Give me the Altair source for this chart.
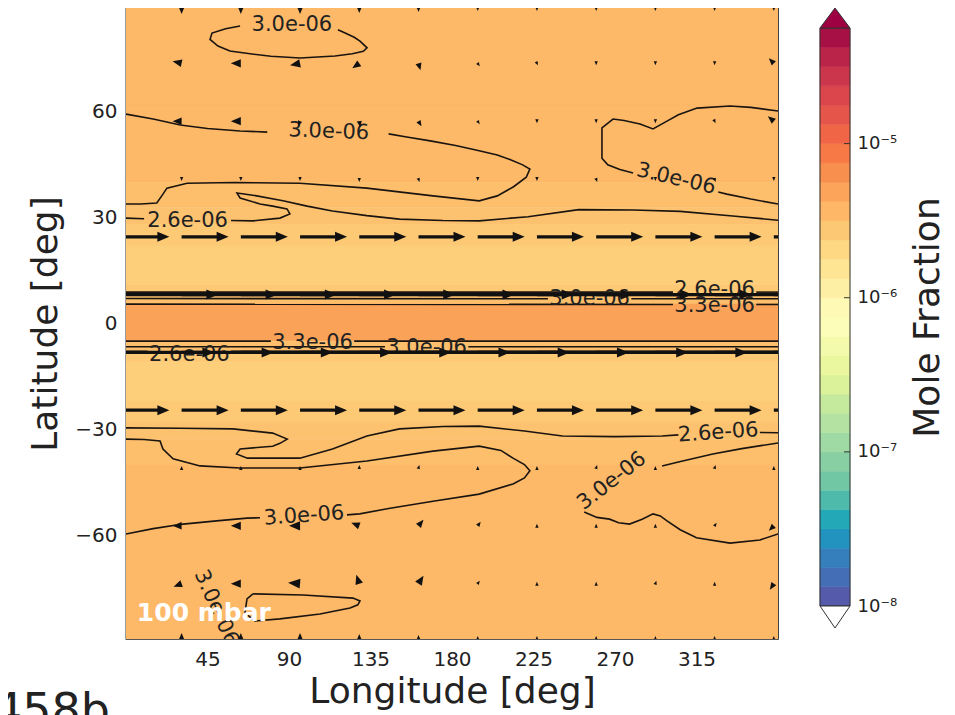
import altair as alt
import pandas as pd

# ------------------------------------------------------------------
# Data
# ------------------------------------------------------------------
# zonal colour field: latitude bands (north -> south) and mole fraction
band_top = [89.5, 62, 40, 33, 28, 22, 11, 8.5, 5.5, -5, -8, -11, -22, -28, -33, -40, -62]
band_bottom = [62, 40, 33, 28, 22, 11, 8.5, 5.5, -5, -8, -11, -22, -28, -33, -40, -62, -89.5]
band_value = [3.5e-6, 3.5e-6, 3.2e-6, 3.0e-6, 2.7e-6, 2.4e-6, 2.7e-6, 3.2e-6, 5.0e-6,
              3.2e-6, 2.7e-6, 2.4e-6, 2.7e-6, 3.0e-6, 3.2e-6, 3.5e-6, 3.5e-6]

# wind vectors (quiver), arbitrary display units
arrow_lon = [-2.0, 30.7, 63.4, 96.1, 128.8, 161.5, 194.2, 226.9, 259.6, 292.3, 325.0, 357.7]
arrow_lat = [89.5, 73.8, 57.4, 41.0, 24.6, 8.2, -8.2, -24.6, -41.0, -57.4, -73.8, -89.5]
arrow_u = [
    [0, 0, 0, 0, 0, 0, 0, 0, 0, 0, 0, 0],
    [-9, -9, -10, -10, -7, 2, 2, 1, 0, 0, 0, -5],
    [-9, -9, -10, -2, 1, 3, 2, 0, 0, 0, 1, -6],
    [0, 0, 0, 0, 0, 1, 0, 0, 1, 0, 1, 0],
    [47, 47, 47, 47, 47, 47, 47, 47, 47, 47, 47, 47],
    [96, 96, 96, 96, 96, 96, 96, 96, 96, 96, 96, 96],
    [92, 92, 92, 92, 92, 92, 92, 92, 92, 92, 92, 92],
    [47, 47, 47, 47, 47, 47, 47, 47, 47, 47, 47, 47],
    [0, 0, 0, 0, 0, 1, 0, 0, 1, 0, 1, 0],
    [-9, -9, -10, -11, -8, 5, 3, 0, 0, 0, 2, -5],
    [-9, -8, -10, -12, -3, 5, 2, 0, 0, 1, 0, -4],
    [0, 0, 0, 0, 0, 0, 0, 0, 0, 0, 0, 0],
]
arrow_v = [
    [-6, -6, -6, -6, -5, -4, -3, -3, -3, -3, -3, -3],
    [1, 2, 0, -2, -5, -7, -3, -2, -2, -2, -2, 5],
    [0, 0, 0, -5, -6, -5, -3, -2, -2, -2, -2, 5],
    [-2, -2, -2, -2, -3, -3, -2, -2, -3, -2, -3, -2],
    [0, 0, 0, 0, 0, 0, 0, 0, 0, 0, 0, 0],
    [0, 0, 0, 0, 0, 0, 0, 0, 0, 0, 0, 0],
    [0, 0, 0, 0, 0, 0, 0, 0, 0, 0, 0, 0],
    [0, 0, 0, 0, 0, 0, 0, 0, 0, 0, 0, 0],
    [2, 2, 2, 2, 3, 3, 2, 2, 3, 2, 3, 2],
    [0, 0, 0, 0, 3, 6, 4, 2, 2, 2, 3, -5],
    [-2, -3, 0, 1, 9, 8, 3, 2, 2, 3, 2, -6],
    [6, 6, 6, 6, 5, 4, 3, 3, 3, 3, 3, 3],
]

# contour line segments (lon, lat), split where the labels sit
contour_segments = {
    "n_top_loop": [(117, 83.3), (121, 82.4), (126, 81.2), (129.2, 80.1), (133.1, 78.2), (131, 77.2),
                   (125, 76.5), (115.4, 75.9), (96.1, 75.3), (80, 75.8), (68.5, 76.5), (57.4, 77.3),
                   (50.8, 78.7), (46.4, 80.6), (47.5, 82.4), (55, 83.6), (63, 84.4)],
    "n_b1": [(0, 59.4), (15, 58), (30, 56.3), (45, 55.3), (63, 54.6), (78, 54.3)],
    "n_b2": [(145, 53.8), (155, 52.9), (168, 51.8), (182, 50.5), (195, 49), (205, 47.8), (212, 46.5),
             (219, 45), (223, 43.8), (221, 41.5), (214, 38.8), (205, 36.2), (195, 34.8), (169.5, 36.2),
             (133, 38.4), (96, 39.8), (60, 40), (33.7, 39.8), (22.6, 38.4), (20.4, 36.7), (17, 34.2),
             (8, 33.9), (0, 33.9)],
    "n_d1": [(0, 29.9), (10, 29.7)],
    "n_d2": [(58, 29.2), (70, 29.1), (85, 29.9), (90.5, 31.1), (88.9, 32.5), (81, 33.3),
             (74, 33.9), (63, 35.6), (61.3, 37), (70, 36.4), (86.7, 34.8), (100, 33.3), (114, 31.9),
             (133, 30.6), (151, 29.6), (175, 29.2), (195, 29.1), (222, 30.3), (250, 32.3), (280, 32.2),
             (306, 31.8), (335, 30.5), (360, 29.3)],
    "n_e1": [(360, 60.3), (345, 61.3), (333.5, 61.7), (315.3, 61.1), (305, 59.2), (298.7, 57.4),
             (291, 55.2), (283.8, 56.6), (275, 57.6), (268.9, 58), (262.8, 55.5), (262.8, 50),
             (262.8, 46.9), (266, 45), (272.7, 43.7), (280, 42.7)],
    "n_e2": [(327, 37.3), (331.8, 36.7), (345, 35.3), (360, 33.9)],
    "eq_n26a": [(0, 8.9), (302, 8.9)], "eq_n26b": [(348, 8.9), (360, 8.9)],
    "eq_n30a": [(0, 7.1), (233, 7.0)], "eq_n30b": [(279, 7.0), (360, 7.0)],
    "eq_n33a": [(0, 5.5), (302, 5.4)], "eq_n33b": [(348, 5.4), (360, 5.4)],
    "eq_s33a": [(0, -5.0), (80, -5.0)], "eq_s33b": [(126, -5.0), (360, -5.0)],
    "eq_s30a": [(0, -6.6), (143, -6.6)], "eq_s30b": [(189, -6.6), (360, -6.6)],
    "eq_s26a": [(0, -7.9), (12, -7.9)], "eq_s26b": [(58, -7.9), (360, -7.9)],
    "s_d1": [(0, -29.6), (30, -29.7), (59, -29.9), (81, -31.1), (89, -32.8), (85, -34), (81, -34.8),
             (63, -35.6), (61, -37), (67, -38.2), (96, -38.2), (114, -35.6), (133, -31.9), (151, -29.9),
             (175, -29.2), (195, -29.1), (220, -30.5), (241, -31.9), (270, -32.1), (296, -31.9),
             (305, -31.6)],
    "s_d2": [(350, -30.9), (360, -31.0)],
    "s_b1": [(0, -32.8), (10, -32.9), (18.8, -33.3), (20.4, -35.6), (26, -38.4), (40.9, -40.4),
             (62.9, -41), (96, -41), (133, -39), (169.5, -36.2), (195, -34.8), (207, -36), (213.7, -38.2),
             (220, -40), (223, -41.8), (220, -43.8), (213.7, -45.5), (195, -48.4), (169.5, -50.4),
             (145, -52.5), (129, -54), (122, -54.3)],
    "s_b2": [(74, -55.1), (66.8, -55.2), (50, -56), (31.5, -56.9), (15, -58.2), (0, -59.7)],
    "s_e1": [(360, -33.9), (340, -35.5), (324, -37), (305, -39.3), (296, -40.4)],
    "s_e2": [(253, -53.5), (260, -55), (267, -55.5), (272, -56.5), (278, -56.9), (285, -55.5),
             (291, -54), (295, -54.6), (298.7, -56), (306, -58.5), (315, -60.8), (333.5, -62.3),
             (350, -61.4), (360, -59.7)],
    "s_loop": [(70.1, -76.7), (97.7, -77), (125.3, -77.9), (129.2, -78.7), (128, -79.8), (123.7, -80.7),
               (107.1, -82.4), (85, -83.8), (71.2, -84.4), (65.7, -82.1), (66.8, -78.1), (70.1, -76.7)],
}

label_text = ["3.0e-06", "3.0e-06", "2.6e-06", "3.0e-06", "2.6e-06", "3.0e-06", "3.3e-06",
              "2.6e-06", "3.3e-06", "3.0e-06", "2.6e-06", "3.0e-06", "3.0e-06", "3.0e-06"]
label_lon = [91.6, 112, 34, 303.7, 325, 256, 325, 35, 103, 166, 327, 268.3, 98.3, 49.7]
label_lat = [84.7, 54.4, 29.0, 41.0, 9.4, 6.9, 5.0, -8.9, -5.5, -7.0, -31.0, -44.7, -54.6, -80.7]
label_angle = [0, 2, 0, 13, 0, 0, 0, 0, 0, 0, 356, 322, 356, 66]

x_ticks = [45, 90, 135, 180, 225, 270, 315]
y_ticks = [-60, -30, 0, 30, 60]
cbar_ticks = [1e-8, 1e-7, 1e-6, 1e-5]
cbar_min_exp = -8.0
cbar_max_exp = -4.25
cbar_levels = 30

# ------------------------------------------------------------------
# Style / layout
# ------------------------------------------------------------------
W, H = 652, 631
LON_DOM = [0, 360]
LAT_DOM = [-89.5, 89.5]
PX_LON = W / (LON_DOM[1] - LON_DOM[0])
PX_LAT = H / (LAT_DOM[1] - LAT_DOM[0])
FONT = "DejaVu Sans"
TXT = "#222222"
spectral_r = ["#5e4fa2", "#3288bd", "#66c2a5", "#abdda4", "#e6f598", "#ffffbf",
              "#fee08b", "#fdae61", "#f46d43", "#d53e4f", "#9e0142"]
color_stops = [cbar_min_exp + (cbar_max_exp - cbar_min_exp) * k / 10 for k in range(11)]
cscale = alt.Scale(type="linear", domain=color_stops, range=spectral_r, clamp=True)

xs = alt.Scale(domain=LON_DOM, nice=False, zero=False)
ys = alt.Scale(domain=LAT_DOM, nice=False, zero=False)
xaxis = alt.Axis(values=x_ticks, title="Longitude [deg]", ticks=False, tickSize=0, domain=False, grid=False,
                 labelFontSize=20, labelColor=TXT, labelPadding=10, titleFontSize=36,
                 titleFontWeight="normal", titleColor=TXT, titlePadding=5)
yaxis = alt.Axis(values=y_ticks, title="Latitude [deg]", ticks=False, tickSize=0, domain=False, grid=False,
                 labelFontSize=20, labelColor=TXT, labelPadding=9, titleFontSize=36,
                 titleFontWeight="normal", titleColor=TXT, titlePadding=10)

# ------------------------------------------------------------------
# Tables
# ------------------------------------------------------------------
df_field = pd.DataFrame({"lon0": 0, "lon1": 360, "lat0": band_bottom, "lat1": band_top, "v": band_value})

rows = []
for i, la in enumerate(arrow_lat):
    for j, lo in enumerate(arrow_lon):
        rows.append({"lon": lo, "lat": la, "u": arrow_u[i][j], "v": arrow_v[i][j]})
df_arrows = pd.DataFrame(rows)

crow = []
for name, pts in contour_segments.items():
    for k, (lo, la) in enumerate(pts):
        crow.append({"cid": name, "seq": k, "lon": lo, "lat": la})
df_contours = pd.DataFrame(crow)

df_labels = pd.DataFrame({"text": label_text, "lon": label_lon, "lat": label_lat, "ang": label_angle})
step = (cbar_max_exp - cbar_min_exp) / cbar_levels
df_cbar = pd.DataFrame({"lo": [cbar_min_exp + step * k for k in range(cbar_levels)],
                        "hi": [cbar_min_exp + step * (k + 1) for k in range(cbar_levels)]})

# ------------------------------------------------------------------
# Map layers
# ------------------------------------------------------------------
field = alt.Chart(df_field).transform_calculate(
    logv="log(datum.v)/LN10"
).mark_rect(clip=True, strokeWidth=0.6).encode(
    x=alt.X("lon0:Q", scale=xs, axis=xaxis), x2="lon1:Q",
    y=alt.Y("lat0:Q", scale=ys, axis=yaxis), y2="lat1:Q",
    color=alt.Color("logv:Q", scale=cscale, legend=None),
    stroke=alt.Stroke("logv:Q", scale=cscale, legend=None),
)

contours = alt.Chart(df_contours).mark_line(clip=True, color="#1a1410", strokeWidth=1.6).encode(
    x=alt.X("lon:Q", scale=xs, axis=xaxis),
    y=alt.Y("lat:Q", scale=ys, axis=yaxis),
    detail="cid:N", order="seq:Q",
)

clabels = alt.Chart(df_labels).mark_text(clip=True, fontSize=21, color=TXT, baseline="middle",
                                         align="center").encode(
    x=alt.X("lon:Q", scale=xs, axis=xaxis),
    y=alt.Y("lat:Q", scale=ys, axis=yaxis),
    text="text:N", angle=alt.Angle("ang:Q", scale=None),
)

arrow_base = alt.Chart(df_arrows).transform_calculate(
    L="sqrt(datum.u*datum.u + datum.v*datum.v)"
).transform_calculate(
    h="clamp(datum.L, 4, 12)", ux="datum.u/datum.L", uy="datum.v/datum.L"
).transform_calculate(
    hx=f"datum.lon + datum.ux*(datum.L - datum.h/2)/{PX_LON}",
    hy=f"datum.lat + datum.uy*(datum.L - datum.h/2)/{PX_LAT}",
    sx=f"datum.lon + datum.ux*(datum.L - 0.7*datum.h)/{PX_LON}",
    sy=f"datum.lat + datum.uy*(datum.L - 0.7*datum.h)/{PX_LAT}",
    ang="(atan2(-datum.uy, datum.ux)*180/PI + 360) % 360",
    size="datum.h*datum.h",
)

shafts = arrow_base.transform_filter("datum.L > 12").mark_rule(
    clip=True, color="#111111", strokeWidth=3.2, strokeCap="butt").encode(
    x=alt.X("lon:Q", scale=xs, axis=xaxis), x2="sx:Q",
    y=alt.Y("lat:Q", scale=ys, axis=yaxis), y2="sy:Q",
)

heads = arrow_base.mark_point(
    clip=True, shape="M-1,-0.83L1,0L-1,0.83Z", filled=True, color="#111111", opacity=1, strokeWidth=0
).encode(
    x=alt.X("hx:Q", scale=xs, axis=xaxis),
    y=alt.Y("hy:Q", scale=ys, axis=yaxis),
    angle=alt.Angle("ang:Q", scale=None),
    size=alt.Size("size:Q", scale=None),
)

pressure = alt.Chart(pd.DataFrame({"lon": [6], "lat": [-84.4], "t": ["100 mbar"]})).mark_text(
    align="left", baseline="alphabetic", fontSize=25, fontWeight="bold", color="white"
).encode(
    x=alt.X("lon:Q", scale=xs, axis=xaxis),
    y=alt.Y("lat:Q", scale=ys, axis=yaxis),
    text="t:N",
)

planet = alt.Chart(pd.DataFrame({"t": ["458b"]})).mark_text(
    align="left", baseline="alphabetic", fontSize=46, color=TXT
).encode(x=alt.value(-133), y=alt.value(718), text="t:N")

map_layer = alt.layer(field, contours, clabels, shafts, heads, pressure, planet)

# ------------------------------------------------------------------
# Colour bar
# ------------------------------------------------------------------
CB_X0, CB_X1 = 694, 724
cb_y = alt.Scale(type="log", domain=[10 ** cbar_min_exp, 10 ** cbar_max_exp], range=[598, 20], nice=False)
cb_axis = alt.Axis(orient="right", offset=CB_X1 - W, values=cbar_ticks, ticks=False, tickSize=0,
                   domain=False, grid=False,
                   labelExpr="'10\u207b' + ['\u2070','\u00b9','\u00b2','\u00b3','\u2074','\u2075','\u2076','\u2077','\u2078','\u2079'][abs(round(log(datum.value)/LN10))]",
                   labelFontSize=18, labelColor=TXT, labelPadding=7,
                   title="Mole Fraction", titleAngle=270, titleFontSize=36, titleFontWeight="normal",
                   titleColor=TXT, titlePadding=50)

cb_bands = alt.Chart(df_cbar).transform_calculate(
    vlo="pow(10, datum.lo)", vhi="pow(10, datum.hi)", logv="(datum.lo + datum.hi)/2"
).mark_rect(strokeWidth=0.6).encode(
    x=alt.value(CB_X0), x2=alt.value(CB_X1),
    y=alt.Y("vlo:Q", scale=cb_y, axis=cb_axis), y2="vhi:Q",
    color=alt.Color("logv:Q", scale=cscale, legend=None),
    stroke=alt.Stroke("logv:Q", scale=cscale, legend=None),
)

cb_outline = alt.Chart(pd.DataFrame({"lo": [cbar_min_exp], "hi": [cbar_max_exp]})).transform_calculate(
    vlo="pow(10, datum.lo)", vhi="pow(10, datum.hi)"
).mark_rect(fillOpacity=0, stroke="#333333", strokeWidth=1).encode(
    x=alt.value(CB_X0), x2=alt.value(CB_X1),
    y=alt.Y("vlo:Q", scale=cb_y, axis=cb_axis), y2="vhi:Q",
)

cb_ticks = alt.Chart(pd.DataFrame({"t": cbar_ticks[1:]})).mark_rule(
    color="#333333", strokeWidth=1).encode(
    x=alt.value(CB_X1 - 6), x2=alt.value(CB_X1),
    y=alt.Y("t:Q", scale=cb_y, axis=cb_axis),
)

tri_top = alt.Chart(pd.DataFrame({"e": [cbar_max_exp]})).transform_calculate(
    val="pow(10, datum.e)"
).mark_point(shape="M-1,0.667L0,-0.667L1,0.667Z", filled=True, fill="#9e0142", stroke="#333333",
             strokeWidth=1, opacity=1, size=900, yOffset=-10).encode(
    x=alt.value((CB_X0 + CB_X1) / 2),
    y=alt.Y("val:Q", scale=cb_y, axis=cb_axis),
)

tri_bot = alt.Chart(pd.DataFrame({"e": [cbar_min_exp]})).transform_calculate(
    val="pow(10, datum.e)"
).mark_point(shape="M-1,-0.733L0,0.733L1,-0.733Z", filled=True, fill="white", stroke="#333333",
             strokeWidth=1, opacity=1, size=900, yOffset=11).encode(
    x=alt.value((CB_X0 + CB_X1) / 2),
    y=alt.Y("val:Q", scale=cb_y, axis=cb_axis),
)

cbar_layer = alt.layer(cb_bands, cb_outline, cb_ticks, tri_top, tri_bot)

chart = alt.layer(map_layer, cbar_layer).resolve_scale(y="independent").properties(
    width=W, height=H,
    autosize=alt.AutoSizeParams(type="none"),
    padding={"left": 118, "top": 0, "right": 169, "bottom": 76},
).configure(font=FONT).configure_view(stroke="#222222", strokeWidth=1.3)

chart.save("out.html", embed_options={"renderer": "svg", "actions": False})
